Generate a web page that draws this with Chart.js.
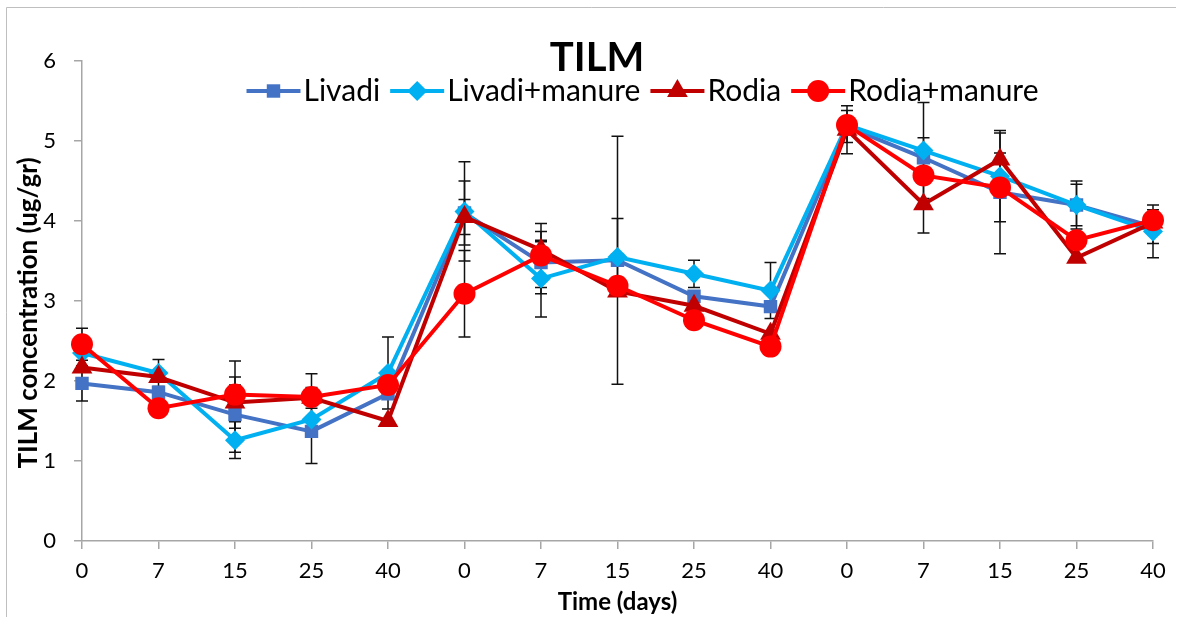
<!DOCTYPE html>
<html>
<head>
<meta charset="utf-8">
<script src="https://cdn.jsdelivr.net/npm/chart.js@4.4.0/dist/chart.umd.min.js"></script>
<style>
  body { margin: 0; background: #fff; }
  #wrap { width: 1182px; height: 617px; }
</style>
</head>
<body>
<div id="wrap"><canvas id="tilmChart" width="1182" height="617"></canvas></div>
<script>
// sampling days, three runs of 0..40
const days = ["0", "7", "15", "25", "40", "0", "7", "15", "25", "40", "0", "7", "15", "25", "40"];

// mean TILM (ug/gr)
const livadi       = [1.97, 1.86, 1.58, 1.37, 1.84, 4.10, 3.48, 3.51, 3.06, 2.93, 5.18, 4.79, 4.36, 4.20, 3.93];
const livadiManure = [2.35, 2.10, 1.26, 1.52, 2.10, 4.12, 3.28, 3.55, 3.34, 3.13, 5.20, 4.88, 4.56, 4.20, 3.87];
const rodia        = [2.17, 2.05, 1.73, 1.79, 1.50, 4.05, 3.64, 3.12, 2.94, 2.59, 5.14, 4.21, 4.77, 3.54, 3.98];
const rodiaManure  = [2.46, 1.66, 1.83, 1.80, 1.95, 3.09, 3.57, 3.19, 2.76, 2.43, 5.20, 4.57, 4.42, 3.76, 4.01];

// error bar half-lengths (0 = none visible)
const livadiErr       = [0.22, 0, 0.47, 0.40, 0, 0.40, 0.39, 1.55, 0, 0, 0.20, 0.25, 0.77, 0.26, 0.21];
const livadiManureErr = [0, 0.17, 0.23, 0, 0.45, 0.62, 0.48, 0.48, 0.17, 0.35, 0, 0.60, 0, 0.30, 0.33];
const rodiaErr        = [0, 0, 0.22, 0.13, 0, 0.22, 0.10, 0, 0, 0, 0.30, 0.36, 0.33, 0, 0];
const rodiaManureErr  = [0.20, 0, 0.42, 0.29, 0, 0.54, 0.40, 0, 0, 0, 0, 0, 0.43, 0, 0];

const seriesNames = ["Livadi", "Livadi+manure", "Rodia", "Rodia+manure"];
const seriesData = [livadi, livadiManure, rodia, rodiaManure];
const seriesErr = [livadiErr, livadiManureErr, rodiaErr, rodiaManureErr];
const colors = ["#4472C4", "#00B0F0", "#C00000", "#FF0000"];
const markers = ["rect", "rectRot", "triangle", "circle"];
const markerSize = [9.5, 10, 12, 11];

const FONT = "Lato, 'DejaVu Sans', sans-serif";
const axisGray = "#A6A6A6";

Chart.defaults.font.family = FONT;
Chart.defaults.color = "#000";

function drawMarker(ctx, style, x, y, r, color) {
  ctx.fillStyle = color;
  ctx.beginPath();
  if (style === "rect") {
    const s = r * Math.SQRT1_2;
    ctx.rect(x - s, y - s, 2 * s, 2 * s);
  } else if (style === "rectRot") {
    ctx.moveTo(x, y - r); ctx.lineTo(x + r, y); ctx.lineTo(x, y + r); ctx.lineTo(x - r, y);
    ctx.closePath();
  } else if (style === "triangle") {
    const h = r * Math.sqrt(3) / 2;
    ctx.moveTo(x, y - r); ctx.lineTo(x + h, y + r / 2); ctx.lineTo(x - h, y + r / 2);
    ctx.closePath();
  } else {
    ctx.arc(x, y, r, 0, Math.PI * 2);
  }
  ctx.fill();
}

// black error bars, drawn under the series
const errorBars = {
  id: "errorBars",
  beforeDatasetsDraw(chart) {
    const ctx = chart.ctx;
    const y = chart.scales.y;
    ctx.save();
    ctx.strokeStyle = "#111";
    ctx.lineWidth = 1.5;
    chart.data.datasets.forEach((ds, i) => {
      const meta = chart.getDatasetMeta(i);
      meta.data.forEach((pt, j) => {
        const e = ds.errors[j];
        if (!e) return;
        const top = y.getPixelForValue(ds.data[j] + e);
        const bot = y.getPixelForValue(ds.data[j] - e);
        ctx.beginPath();
        ctx.moveTo(pt.x, top); ctx.lineTo(pt.x, bot);
        ctx.moveTo(pt.x - 6, top); ctx.lineTo(pt.x + 6, top);
        ctx.moveTo(pt.x - 6, bot); ctx.lineTo(pt.x + 6, bot);
        ctx.stroke();
      });
    });
    ctx.restore();
  }
};

// title, legend (inside plot like excel), y title, frame
const decorations = {
  id: "decorations",
  afterDraw(chart) {
    const ctx = chart.ctx;
    ctx.save();

    // outer frame (left + top)
    ctx.strokeStyle = "#BFBFBF";
    ctx.lineWidth = 1;
    ctx.beginPath();
    ctx.moveTo(6.5, 617); ctx.lineTo(6.5, 7.5); ctx.lineTo(1176, 7.5);
    ctx.stroke();

    ctx.fillStyle = "#000";
    ctx.textBaseline = "middle";
    ctx.textAlign = "center";
    ctx.font = "bold 40px " + FONT;
    ctx.fillText("TILM", 597, 58);

    // y title
    ctx.save();
    ctx.translate(29, 313);
    ctx.rotate(-Math.PI / 2);
    ctx.font = "bold 26px " + FONT;
    ctx.fillText("TILM concentration (ug/gr)", 0, 0);
    ctx.restore();

    // legend
    ctx.font = "30px " + FONT;
    ctx.textAlign = "left";
    const lineLen = 54, gapText = 3, gapItem = 10;
    let total = 0;
    seriesNames.forEach((n, i) => {
      total += lineLen + gapText + ctx.measureText(n).width + (i < seriesNames.length - 1 ? gapItem : 0);
    });
    let x = 642.5 - total / 2;
    const ly = 91;
    seriesNames.forEach((n, i) => {
      ctx.strokeStyle = colors[i];
      ctx.lineWidth = 4;
      ctx.beginPath();
      ctx.moveTo(x, ly); ctx.lineTo(x + lineLen, ly);
      ctx.stroke();
      drawMarker(ctx, markers[i], x + lineLen / 2, ly, markerSize[i], colors[i]);
      x += lineLen + gapText;
      ctx.fillStyle = "#000";
      ctx.fillText(n, x, ly);
      x += ctx.measureText(n).width + gapItem;
    });

    ctx.restore();
  }
};

const datasets = seriesNames.map((name, i) => ({
  label: name,
  data: seriesData[i],
  errors: seriesErr[i],
  borderColor: colors[i],
  backgroundColor: colors[i],
  borderWidth: 4,
  pointStyle: markers[i],
  pointRadius: markerSize[i],
  pointBorderWidth: 0,
  pointBackgroundColor: colors[i],
  tension: 0,
  order: seriesNames.length - i
}));

new Chart(document.getElementById("tilmChart"), {
  type: "line",
  data: { labels: days, datasets: datasets },
  options: {
    responsive: false,
    animation: false,
    devicePixelRatio: 1,
    layout: { padding: { top: 61, right: 29, left: 0, bottom: 0 } },
    plugins: {
      legend: { display: false },
      title: { display: false },
      tooltip: { enabled: false }
    },
    scales: {
      x: {
        offset: false,
        grid: { drawOnChartArea: false, drawTicks: true, tickLength: 8, color: axisGray, lineWidth: 1.5 },
        border: { color: axisGray, width: 1.5 },
        ticks: { color: "#000", font: { size: 22 }, padding: 9, maxRotation: 0, autoSkip: false },
        title: { display: true, text: "Time (days)", color: "#000", font: { size: 24, weight: "bold" }, padding: 0 },
        afterFit(scale) { scale.height = 76; }
      },
      y: {
        min: 0,
        max: 6,
        grid: { drawOnChartArea: false, drawTicks: true, tickLength: 8, color: axisGray, lineWidth: 1.5 },
        border: { color: axisGray, width: 1.5 },
        ticks: { stepSize: 1, color: "#000", font: { size: 22 }, padding: 18 },
        afterFit(scale) { scale.width = 82; }
      }
    }
  },
  plugins: [errorBars, decorations]
});
</script>
</body>
</html>
